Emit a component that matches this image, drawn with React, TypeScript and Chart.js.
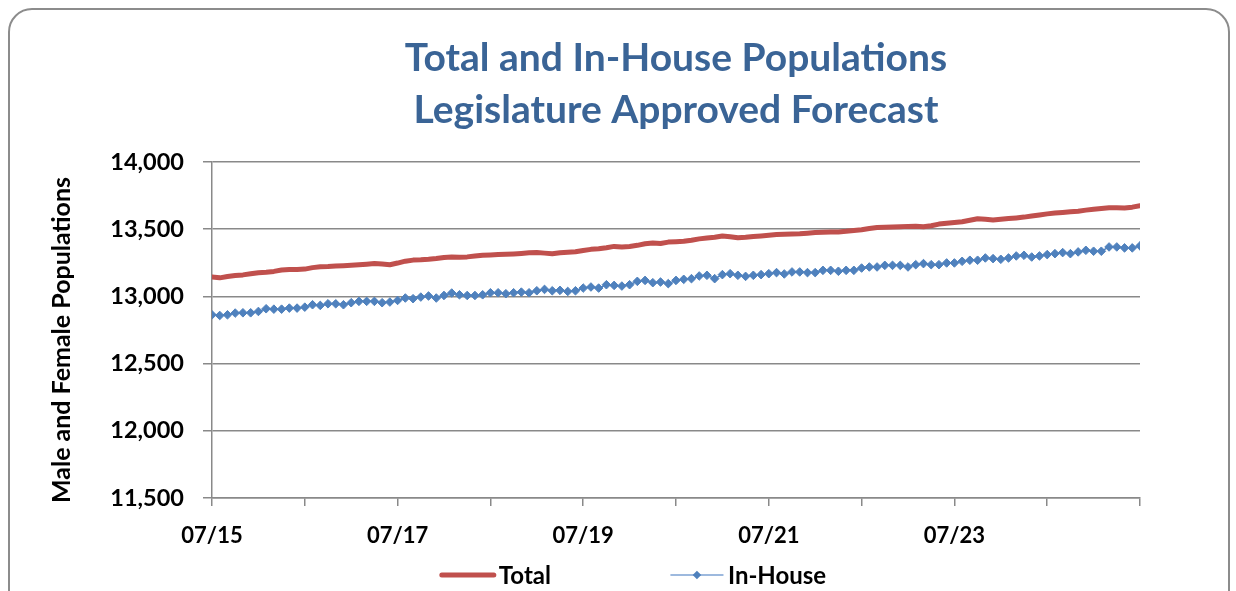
import React, { useEffect, useRef } from 'react';
import { Chart, registerables } from 'chart.js';

Chart.register(...registerables);

// ---- Data ----
const chartTitle = ['Total and In-House Populations', 'Legislature Approved Forecast'];
const yAxisTitle = 'Male and Female Populations';
const seriesNames = ['Total', 'In-House'];
// x tick labels, one per 12-month tick (07/15 .. 07/25)
const xTickLabels = ['07/15', '', '07/17', '', '07/19', '', '07/21', '', '07/23', '', ''];
const yMin = 11500;
const yMax = 14000;
const yStep = 500;
const monthsPerTick = 12;

// monthly values, 07/15 .. 07/25
const total = [
  13144, 13138, 13148, 13155, 13160, 13168, 13176, 13180, 13186, 13196,
  13200, 13200, 13203, 13214, 13220, 13222, 13226, 13228, 13231, 13235,
  13240, 13244, 13241, 13236, 13248, 13262, 13270, 13272, 13276, 13282,
  13290, 13293, 13292, 13294, 13300, 13306, 13308, 13311, 13313, 13316,
  13320, 13324, 13326, 13322, 13318, 13324, 13328, 13332, 13342, 13350,
  13354, 13362, 13372, 13368, 13372, 13380, 13392, 13398, 13394, 13404,
  13407, 13410, 13418, 13428, 13435, 13440, 13450, 13444, 13436, 13440,
  13446, 13450, 13455, 13460, 13462, 13464, 13466, 13470, 13475, 13477,
  13479, 13480, 13484, 13490, 13496, 13505, 13512, 13514, 13516, 13518,
  13521, 13522, 13518, 13526, 13538, 13545, 13550, 13555, 13566, 13578,
  13574, 13568, 13574, 13579, 13584, 13590, 13598, 13606, 13614, 13620,
  13625, 13630, 13634, 13642, 13649, 13654, 13659, 13660, 13658, 13664,
  13674,
];

const inHouse = [
  12863, 12858, 12863, 12876, 12878, 12878, 12888, 12908, 12905, 12905,
  12913, 12913, 12920, 12938, 12933, 12945, 12945, 12938, 12953, 12963,
  12963, 12963, 12953, 12958, 12970, 12988, 12983, 12995, 13003, 12988,
  13007, 13025, 13012, 13007, 13007, 13012, 13027, 13027, 13020, 13027,
  13032, 13027, 13042, 13052, 13042, 13045, 13037, 13042, 13062, 13070,
  13062, 13087, 13082, 13077, 13087, 13112, 13119, 13102, 13107, 13095,
  13119, 13127, 13132, 13152, 13157, 13132, 13162, 13169, 13157, 13149,
  13157, 13162, 13169, 13177, 13167, 13182, 13182, 13177, 13177, 13194,
  13194, 13187, 13194, 13194, 13211, 13219, 13219, 13231, 13231, 13231,
  13219, 13236, 13244, 13236, 13236, 13249, 13249, 13261, 13269, 13269,
  13286, 13281, 13276, 13286, 13301, 13306, 13293, 13301, 13311, 13318,
  13326, 13318, 13331, 13343, 13336, 13336, 13368, 13368, 13361, 13361,
  13376,
];

const FONT = 'Lato, "Open Sans", sans-serif';
const GRID = '#898989';

const legendPlugin = {
  id: 'excelLegend',
  afterDraw(chart: any) {
    const ctx = chart.ctx;
    const ds = chart.data.datasets;
    ctx.save();
    ctx.font = `bold 24px ${FONT}`;
    ctx.fillStyle = '#000';
    ctx.textBaseline = 'middle';
    ctx.textAlign = 'left';
    const lineW = 52;
    const textGap = 5;
    const itemGap = 120;
    const widths = ds.map((d: any) => lineW + textGap + ctx.measureText(d.label).width);
    const totalW = widths.reduce((a: number, b: number) => a + b, 0) + itemGap * (ds.length - 1);
    let x = 634 - totalW / 2;
    const y = 575;
    ds.forEach((d: any, i: number) => {
      ctx.beginPath();
      ctx.strokeStyle = d.legendLineColor || d.borderColor;
      ctx.lineWidth = d.borderWidth;
      ctx.lineCap = 'round';
      ctx.moveTo(x, y);
      ctx.lineTo(x + lineW, y);
      ctx.stroke();
      if (d.pointRadius > 0) {
        const cx = x + lineW / 2;
        const r = d.pointRadius;
        ctx.beginPath();
        ctx.fillStyle = d.pointBackgroundColor;
        ctx.moveTo(cx, y - r);
        ctx.lineTo(cx + r, y);
        ctx.lineTo(cx, y + r);
        ctx.lineTo(cx - r, y);
        ctx.closePath();
        ctx.fill();
      }
      ctx.fillStyle = '#000';
      ctx.fillText(d.label, x + lineW + textGap, y + 1);
      x += widths[i] + itemGap;
    });

    // y-axis title
    const area = chart.chartArea;
    ctx.save();
    ctx.font = `bold 25px ${FONT}`;
    ctx.textAlign = 'center';
    ctx.textBaseline = 'middle';
    ctx.translate(62, (area.top + area.bottom) / 2 + 10);
    ctx.rotate(-Math.PI / 2);
    ctx.fillText(yAxisTitle, 0, 0);
    ctx.restore();

    ctx.restore();
  },
};

export default function App() {
  const canvasRef = useRef<HTMLCanvasElement | null>(null);

  useEffect(() => {
    if (!canvasRef.current) return;
    const chart = new Chart(canvasRef.current, {
      type: 'line',
      data: {
        datasets: [
          {
            label: seriesNames[0],
            data: total.map((v, i) => ({ x: i, y: v })),
            borderColor: '#C0504D',
            backgroundColor: '#C0504D',
            borderWidth: 5,
            borderCapStyle: 'round',
            borderJoinStyle: 'round',
            pointRadius: 0,
            tension: 0,
          },
          {
            label: seriesNames[1],
            data: inHouse.map((v, i) => ({ x: i, y: v })),
            borderColor: '#4F81BD',
            legendLineColor: '#7DA3D4',
            backgroundColor: '#4F81BD',
            borderWidth: 1.5,
            pointStyle: 'rectRot',
            pointRadius: 4.3,
            pointBorderWidth: 1,
            pointBackgroundColor: '#4F81BD',
            pointBorderColor: '#4F81BD',
            tension: 0,
          } as any,
        ],
      },
      options: {
        animation: false,
        responsive: false,
        devicePixelRatio: 1,
        layout: { padding: { left: 46, right: 96, top: 0, bottom: 0 } },
        plugins: {
          legend: { display: false },
          tooltip: { enabled: false },
          title: {
            display: true,
            text: chartTitle,
            fullSize: false,
            color: '#3A6496',
            font: { family: FONT, size: 39, weight: 'bold', lineHeight: '52px' },
            padding: { top: 32, bottom: 26 },
          },
        },
        scales: {
          x: {
            type: 'linear',
            min: 0,
            max: total.length - 1,
            afterFit: (scale: any) => {
              scale.height = 93;
            },
            afterBuildTicks: (scale: any) => {
              const t = [];
              for (let v = 0; v <= total.length - 1; v += monthsPerTick) t.push({ value: v });
              scale.ticks = t;
            },
            ticks: {
              autoSkip: false,
              maxRotation: 0,
              padding: 17,
              color: '#000',
              font: { family: FONT, size: 22, weight: 'bold' },
              callback: (_v: any, idx: number) => xTickLabels[idx] ?? '',
            },
            grid: {
              drawOnChartArea: false,
              drawTicks: true,
              tickLength: 8,
              color: GRID,
              lineWidth: 1.5,
            },
            border: { display: true, color: GRID, width: 1.5 },
          },
          y: {
            min: yMin,
            max: yMax,
            afterFit: (scale: any) => {
              scale.width = 166;
            },
            ticks: {
              stepSize: yStep,
              padding: 19,
              color: '#000',
              font: { family: FONT, size: 23.5, weight: 'bold' },
              callback: (v: any) => Number(v).toLocaleString('en-US'),
            },
            grid: {
              color: GRID,
              lineWidth: 1.5,
              tickLength: 9,
              drawTicks: true,
            },
            border: { display: true, color: GRID, width: 1.5 },
          },
        },
      } as any,
      plugins: [legendPlugin],
    });
    return () => chart.destroy();
  }, []);

  return (
    <div style={{ position: 'fixed', left: 0, top: 0, width: 1236, height: 591, background: '#fff', overflow: 'hidden' }}>
      <div
        style={{
          position: 'absolute',
          left: 8,
          top: 8,
          width: 1222,
          height: 640,
          boxSizing: 'border-box',
          border: '2px solid #8c8c8c',
          borderRadius: 24,
        }}
      />
      <canvas
        ref={canvasRef}
        width={1236}
        height={591}
        style={{ position: 'absolute', left: 0, top: 0, width: 1236, height: 591 }}
      />
    </div>
  );
}
